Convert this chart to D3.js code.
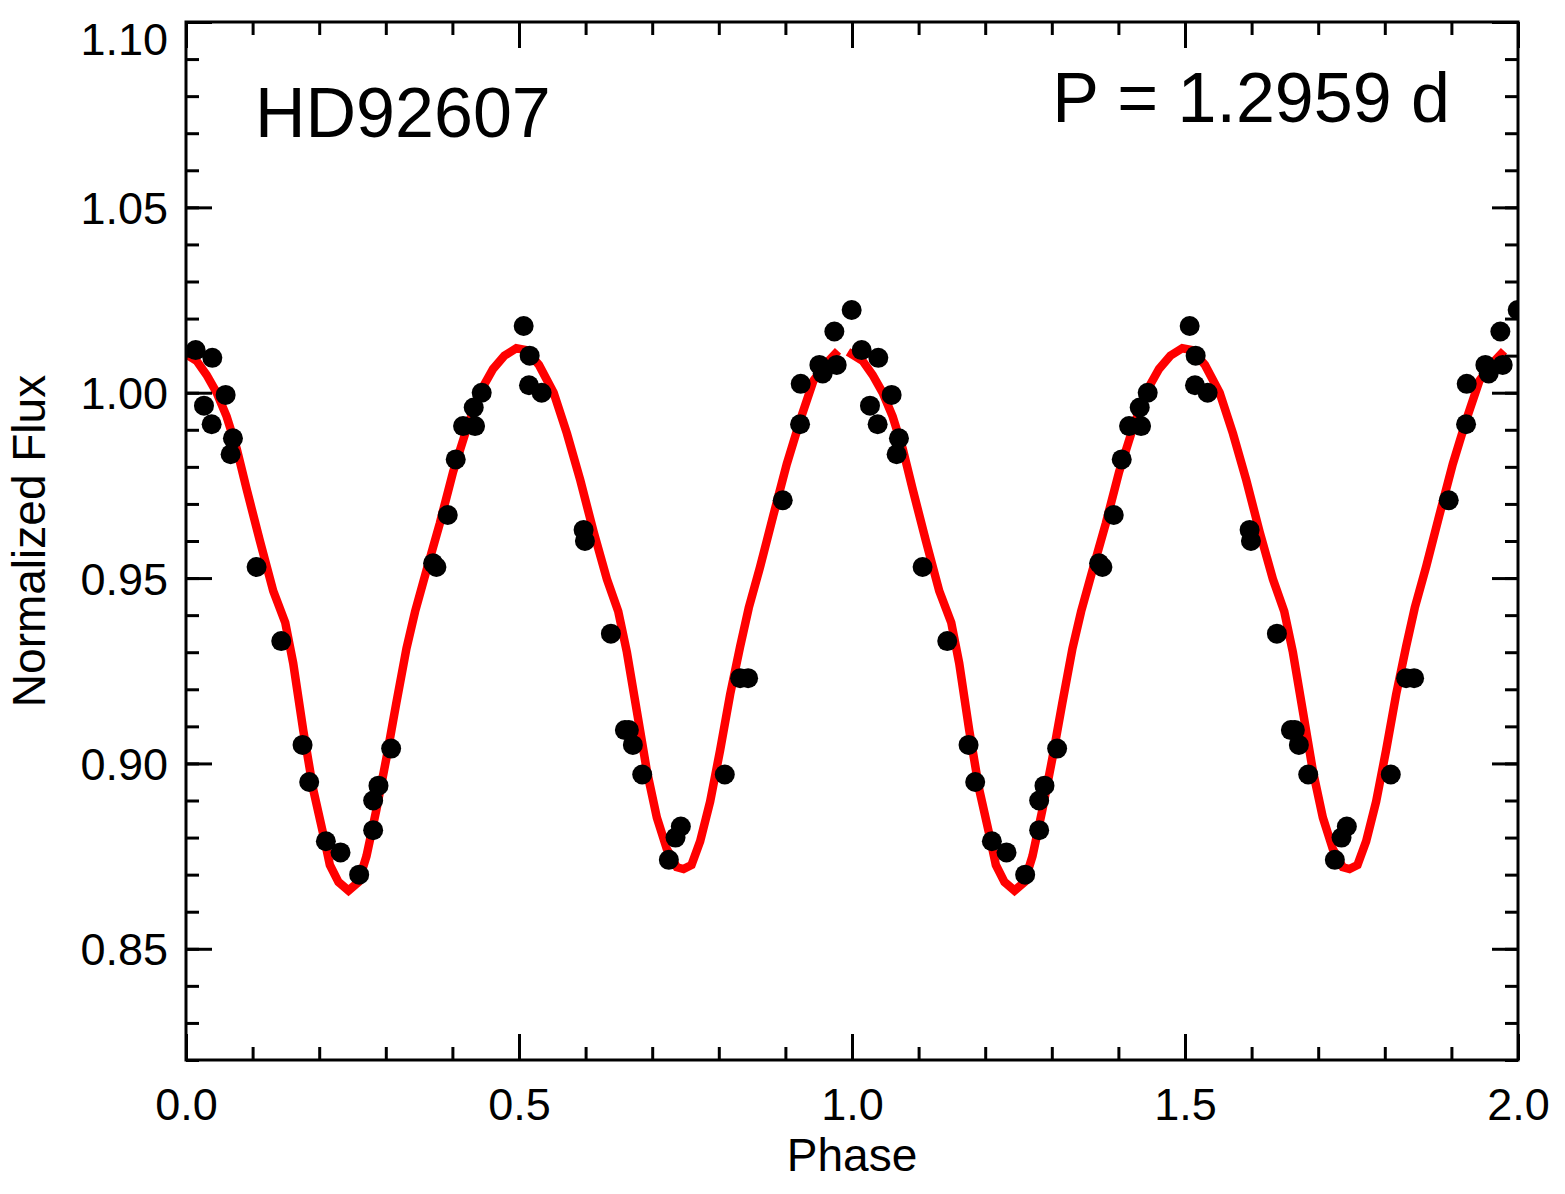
<!DOCTYPE html>
<html>
<head>
<meta charset="utf-8">
<script src="https://cdn.jsdelivr.net/npm/d3@7"></script>
<style>
  html, body { margin: 0; padding: 0; background: #fff; }
  svg { display: block; font-family: "Liberation Sans", Arial, Helvetica, sans-serif; }
</style>
</head>
<body>
<svg id="svg" width="1565" height="1194"></svg>
<script>
// Observed points, one cycle (plotted again at phase + 1)
const obsPhase = [
  0.0145, 0.0395, 0.0595, 0.027, 0.0385, 0.0705, 0.067, 0.106, 0.143, 0.175,
  0.185, 0.210, 0.232, 0.260, 0.281, 0.281, 0.289, 0.308, 0.371, 0.376,
  0.393, 0.405, 0.416, 0.434, 0.432, 0.444, 0.507, 0.516, 0.515, 0.534,
  0.597, 0.599, 0.638, 0.659, 0.665, 0.671, 0.685, 0.743, 0.735, 0.725,
  0.809, 0.832, 0.844, 0.896, 0.922, 0.923, 0.951, 0.956, 0.977, 0.9735,
  0.9995,
];
const obsFlux = [
  1.0115, 1.0094, 0.9994, 0.9965, 0.9915, 0.9877, 0.9834, 0.953, 0.933, 0.905,
  0.895, 0.879, 0.876, 0.870, 0.882, 0.890, 0.894, 0.904, 0.954, 0.953,
  0.967, 0.982, 0.991, 0.991, 0.996, 1.000, 1.018, 1.010, 1.002, 1.000,
  0.963, 0.960, 0.935, 0.909, 0.909, 0.905, 0.897, 0.883, 0.880, 0.874,
  0.897, 0.923, 0.923, 0.971, 0.9915, 1.0024, 1.0075, 1.0052, 1.0075, 1.0165,
  1.0223,
];

// Model curve, one cycle
const modelPhase = [
  -0.006, 0.016, 0.031, 0.046, 0.061, 0.076, 0.091, 0.111, 0.131, 0.149,
  0.161, 0.176, 0.191, 0.206, 0.216, 0.229, 0.244, 0.259, 0.271, 0.286,
  0.301, 0.316, 0.331, 0.344, 0.361, 0.381, 0.401, 0.421, 0.441, 0.461,
  0.478, 0.496, 0.511, 0.530, 0.552, 0.572, 0.592, 0.612, 0.632, 0.649,
  0.662, 0.677, 0.692, 0.707, 0.722, 0.737, 0.747, 0.759, 0.772, 0.787,
  0.802, 0.817, 0.832, 0.845, 0.862, 0.882, 0.902, 0.922, 0.942, 0.962,
  0.979,
];
const modelFlux = [
  1.0110, 1.0086, 1.0048, 1.0000, 0.9936, 0.9850, 0.9740, 0.9600, 0.9465, 0.9380,
  0.9270, 0.9090, 0.8930, 0.8810, 0.8726, 0.8680, 0.8657, 0.8680, 0.8750, 0.8876,
  0.9015, 0.9165, 0.9310, 0.9410, 0.9520, 0.9647, 0.9786, 0.9900, 1.0000, 1.0064,
  1.0100, 1.0120, 1.0115, 1.0075, 1.0000, 0.9890, 0.9764, 0.9625, 0.9497, 0.9410,
  0.9300, 0.9140, 0.8980, 0.8854, 0.8769, 0.8720, 0.8715, 0.8726, 0.8790, 0.8897,
  0.9036, 0.9186, 0.9315, 0.9420, 0.9530, 0.9670, 0.9807, 0.9925, 1.0032, 1.0080,
  1.0113,
];

const cycles = [0, 1];
const xMajor = [0, 0.5, 1.0, 1.5, 2.0];
const xMinor = d3.range(1, 20).map(i => i / 10);
const yMajor = [0.85, 0.90, 0.95, 1.00, 1.05, 1.10];
const yMinor = d3.range(82, 111).map(i => i / 100);

const starName = 'HD92607';
const periodLabel = 'P = 1.2959 d';

const frame = { left: 186, right: 1518, top: 22, bottom: 1060 };
const x = d3.scaleLinear().domain([0, 2]).range([frame.left, frame.right]);
const y = d3.scaleLinear().domain([0.82, 1.10]).range([frame.bottom, frame.top]);

const svg = d3.select('#svg');
svg.append('rect').attr('width', 1565).attr('height', 1194).attr('fill', '#fff');

svg.append('clipPath').attr('id', 'plot-clip')
  .append('rect')
  .attr('x', frame.left).attr('y', frame.top)
  .attr('width', frame.right - frame.left).attr('height', frame.bottom - frame.top);

const plot = svg.append('g').attr('clip-path', 'url(#plot-clip)');

// ── model curve, once per cycle ──
const line = d3.line().x(d => x(d[0])).y(d => y(d[1]));
plot.append('g')
  .selectAll('path')
  .data(cycles)
  .join('path')
  .attr('d', c => line(modelPhase.map((p, i) => [p + c, modelFlux[i]])))
  .attr('fill', 'none')
  .attr('stroke', '#ff0000')
  .attr('stroke-width', 8.5);

// ── observed points ──
const pts = cycles.flatMap(c => obsPhase.map((p, i) => [p + c, obsFlux[i]]));
plot.append('g')
  .selectAll('circle')
  .data(pts)
  .join('circle')
  .attr('cx', d => x(d[0]))
  .attr('cy', d => y(d[1]))
  .attr('r', 10)
  .attr('fill', '#000');

// ── axes: ticks point inward on all four sides ──
function styleAxis(g) {
  g.select('.domain').remove();
  g.selectAll('line').attr('stroke', '#000').attr('stroke-width', 3);
  g.selectAll('text').attr('fill', '#000').attr('font-size', 45)
    .attr('font-family', '"Liberation Sans", Arial, sans-serif');
}

const axBottom = svg.append('g').attr('transform', `translate(0,${frame.bottom})`);
axBottom.append('g').call(d3.axisBottom(x).tickValues(xMinor).tickSize(-13).tickFormat('')).call(styleAxis);
axBottom.append('g').call(d3.axisBottom(x).tickValues(xMajor).tickSize(-26).tickFormat(d3.format('.1f'))).call(styleAxis)
  .selectAll('text').attr('y', 60).attr('dy', 0);

const axTop = svg.append('g').attr('transform', `translate(0,${frame.top})`);
axTop.append('g').call(d3.axisTop(x).tickValues(xMinor).tickSize(-13).tickFormat('')).call(styleAxis);
axTop.append('g').call(d3.axisTop(x).tickValues(xMajor).tickSize(-26).tickFormat('')).call(styleAxis);

const axLeft = svg.append('g').attr('transform', `translate(${frame.left},0)`);
axLeft.append('g').call(d3.axisLeft(y).tickValues(yMinor).tickSize(-13).tickFormat('')).call(styleAxis);
axLeft.append('g').call(d3.axisLeft(y).tickValues(yMajor).tickSize(-26).tickFormat(d3.format('.2f'))).call(styleAxis)
  .selectAll('text').attr('x', -18).attr('dy', '0.36em')
  // top label sits just below the frame corner, as in the original
  .filter(d => d === 1.10).attr('dy', '0.72em');

const axRight = svg.append('g').attr('transform', `translate(${frame.right},0)`);
axRight.append('g').call(d3.axisRight(y).tickValues(yMinor).tickSize(-13).tickFormat('')).call(styleAxis);
axRight.append('g').call(d3.axisRight(y).tickValues(yMajor).tickSize(-26).tickFormat('')).call(styleAxis);

// frame box
svg.append('rect')
  .attr('x', frame.left).attr('y', frame.top)
  .attr('width', frame.right - frame.left).attr('height', frame.bottom - frame.top)
  .attr('fill', 'none').attr('stroke', '#000').attr('stroke-width', 3);

// ── labels ──
svg.append('text')
  .attr('x', (frame.left + frame.right) / 2).attr('y', 1171)
  .attr('text-anchor', 'middle').attr('font-size', 46)
  .text('Phase');

svg.append('text')
  .attr('transform', `translate(45,${(frame.top + frame.bottom) / 2}) rotate(-90)`)
  .attr('text-anchor', 'middle').attr('font-size', 46)
  .text('Normalized Flux');

svg.append('text')
  .attr('x', 255).attr('y', 137)
  .attr('font-size', 70)
  .text(starName);

svg.append('text')
  .attr('x', 1450).attr('y', 122)
  .attr('text-anchor', 'end').attr('font-size', 70)
  .text(periodLabel);
</script>
</body>
</html>
